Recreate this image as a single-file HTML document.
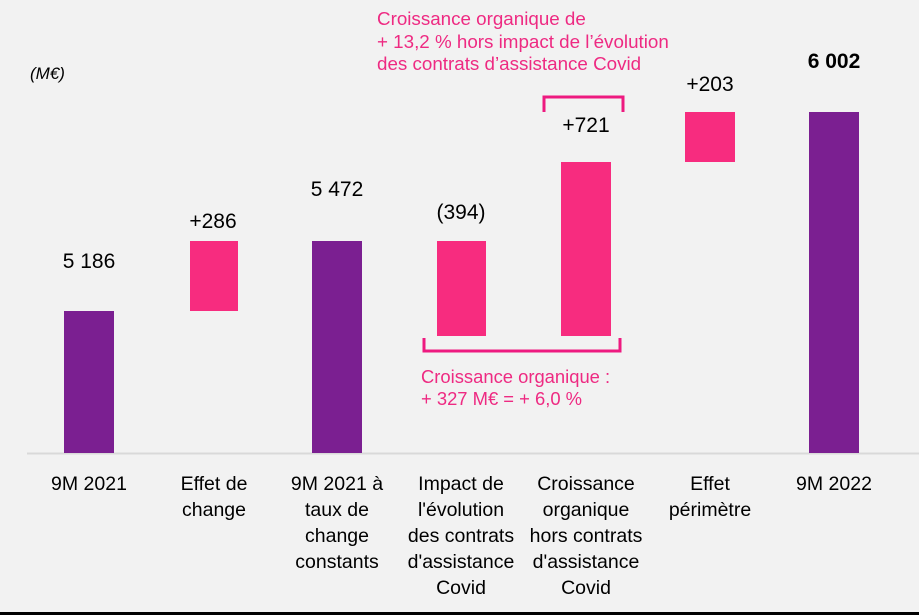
<!DOCTYPE html>
<html><head><meta charset="utf-8"><style>
html,body{margin:0;padding:0;background:#f2f2f2}
svg{display:block}
text{font-family:"Liberation Sans",sans-serif}
</style></head><body>
<svg width="919" height="615" viewBox="0 0 919 615" xmlns="http://www.w3.org/2000/svg">
<rect width="919" height="615" fill="#f2f2f2"/>
<line x1="27" y1="453.5" x2="919" y2="453.5" stroke="#d9d9d9" stroke-width="2"/>
<rect x="0" y="612" width="919" height="3" fill="#000"/>
<g fill="#7b1f91">
<rect x="64" y="311" width="50" height="142"/>
<rect x="312" y="241" width="50" height="212"/>
<rect x="809" y="112" width="50" height="341"/>
</g>
<g fill="#f72c7f">
<rect x="190" y="241" width="48" height="70"/>
<rect x="437" y="241" width="49" height="95"/>
<rect x="561" y="162" width="50" height="174"/>
<rect x="685" y="112" width="50" height="50"/>
</g>
<g fill="none" stroke="#ee1a80" stroke-width="3">
<path d="M424 338 V351 H620 V338"/>
<path d="M544 112 V97 H623 V112"/>
</g>
<g font-size="21" fill="#000" text-anchor="middle">
<text x="89" y="268">5 186</text>
<text x="213" y="228">+286</text>
<text x="337" y="196">5 472</text>
<text x="461" y="219">(394)</text>
<text x="586" y="132">+721</text>
<text x="710" y="91">+203</text>
<text x="834" y="68" font-weight="bold">6 002</text>
</g>
<text x="30" y="79" font-size="17" font-style="italic" fill="#000">(M€)</text>
<g font-size="18.8" fill="#ee2a82">
<text x="377" y="25">Croissance organique de</text>
<text x="377" y="48">+ 13,2 % hors impact de l’évolution</text>
<text x="377" y="70">des contrats d’assistance Covid</text>
</g>
<g font-size="18.4" fill="#ee2a82">
<text x="421" y="383">Croissance organique :</text>
<text x="421" y="405">+ 327 M€ = + 6,0 %</text>
</g>
<g font-size="19.5" fill="#000" text-anchor="middle">
<text x="89" y="490">9M 2021</text>
<text x="214" y="490">Effet de</text><text x="214" y="516">change</text>
<text x="337" y="490">9M 2021 à</text><text x="337" y="516">taux de</text><text x="337" y="542">change</text><text x="337" y="568">constants</text>
<text x="461" y="490">Impact de</text><text x="461" y="516">l'évolution</text><text x="461" y="542">des contrats</text><text x="461" y="568">d'assistance</text><text x="461" y="594">Covid</text>
<text x="586" y="490">Croissance</text><text x="586" y="516">organique</text><text x="586" y="542">hors contrats</text><text x="586" y="568">d'assistance</text><text x="586" y="594">Covid</text>
<text x="710" y="490">Effet</text><text x="710" y="516">périmètre</text>
<text x="834" y="490">9M 2022</text>
</g>
</svg>
</body></html>
